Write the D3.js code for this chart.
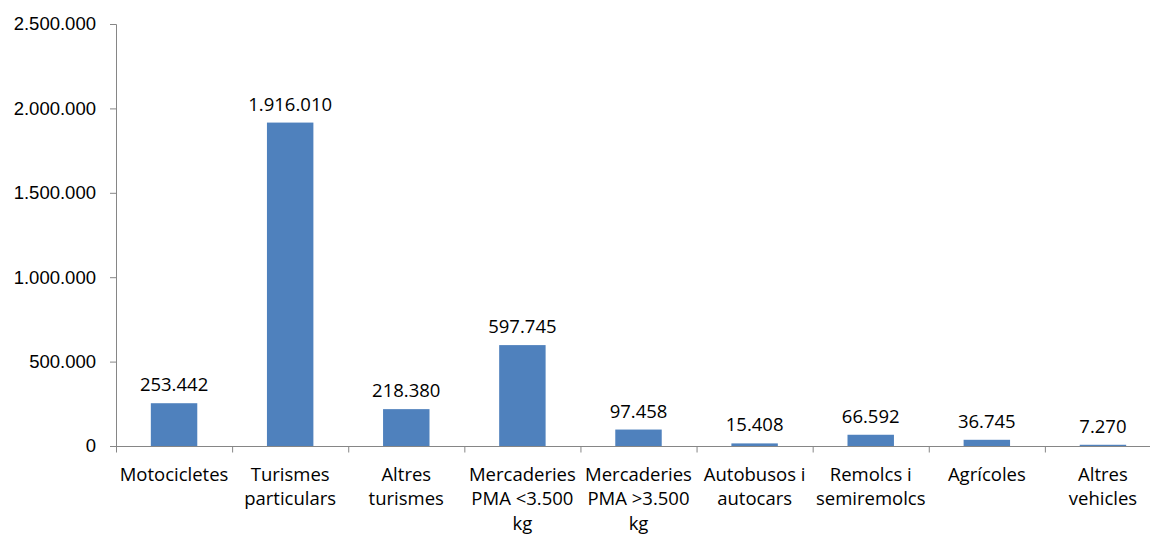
<!DOCTYPE html>
<html lang="ca">
<head>
  <meta charset="utf-8">
  <script src="https://d3js.org/d3.v7.min.js"></script>
  <style>
    body { margin: 0; background: #fff; }
    svg { display: block; font-family: "Open Sans", sans-serif; }
    .axis path, .axis line { stroke: #868686; }
    .axis text { fill: #000; font-size: 18.5px; }
  </style>
</head>
<body>
  <svg width="1150" height="535"></svg>

  <script>
    const width = 1150, height = 535;

    const categories = [
      ["Motocicletes"],
      ["Turismes", "particulars"],
      ["Altres", "turismes"],
      ["Mercaderies", "PMA <3.500", "kg"],
      ["Mercaderies", "PMA >3.500", "kg"],
      ["Autobusos i", "autocars"],
      ["Remolcs i", "semiremolcs"],
      ["Agrícoles"],
      ["Altres", "vehicles"]
    ];
    const values = [253442, 1916010, 218380, 597745, 97458, 15408, 66592, 36745, 7270];
    const yTicks = [0, 500000, 1000000, 1500000, 2000000, 2500000];

    const margin = { left: 116, right: -11, top: 24, bottom: 89 };

    const svg = d3.select("svg");

    // es-style number format: dots as thousands separators
    const locale = d3.formatLocale({ decimal: ",", thousands: ".", grouping: [3], currency: ["", " €"] });
    const fmt = locale.format(",d");

    const keys = categories.map((c, i) => i);

    const x = d3.scaleBand()
      .domain(keys)
      .range([margin.left, width - margin.right])
      .paddingInner(0.6)
      .paddingOuter(0.3);

    const y = d3.scaleLinear()
      .domain([0, 2500000])
      .range([height - margin.bottom, margin.top]);

    // y axis
    const yAxis = svg.append("g")
      .attr("class", "axis")
      .attr("transform", `translate(${margin.left},0)`)
      .call(d3.axisLeft(y).tickValues(yTicks).tickFormat(fmt).tickSize(6).tickPadding(14).tickSizeOuter(6));
    yAxis.select(".domain").attr("d", `M-6,${y(2500000) + 0.5}H0.5V${y(0)}`);

    // bars
    svg.append("g").selectAll("rect")
      .data(values)
      .enter().append("rect")
      .attr("x", (d, i) => x(i))
      .attr("width", x.bandwidth())
      .attr("y", d => y(d))
      .attr("height", d => y(0) - y(d))
      .attr("fill", "#4F81BD");

    // value labels
    svg.append("g").selectAll("text")
      .data(values)
      .enter().append("text")
      .attr("x", (d, i) => x(i) + x.bandwidth() / 2)
      .attr("y", d => y(d) - 12)
      .attr("text-anchor", "middle")
      .style("font-size", "18.5px")
      .attr("fill", "#000")
      .text(d => fmt(d));

    // x axis: ticks at category boundaries
    const step = x.step();
    const xAxis = svg.append("g")
      .attr("class", "axis")
      .attr("transform", `translate(0,${y(0) + 0.5})`);
    xAxis.append("path")
      .attr("d", `M${margin.left},0H${width}`)
      .attr("fill", "none")
      .attr("stroke", "#868686");
    xAxis.selectAll("line")
      .data(d3.range(keys.length + 1))
      .enter().append("line")
      .attr("x1", i => margin.left + 0.5 + i * step)
      .attr("x2", i => margin.left + 0.5 + i * step)
      .attr("y1", 0)
      .attr("y2", 6);

    const labels = xAxis.selectAll("text.cat")
      .data(categories)
      .enter().append("text")
      .attr("class", "cat")
      .attr("text-anchor", "middle")
      .attr("transform", (d, i) => `translate(${x(i) + x.bandwidth() / 2},34)`);
    labels.selectAll("tspan")
      .data(d => d)
      .enter().append("tspan")
      .attr("x", 0)
      .attr("y", (d, j) => j * 24.5)
      .text(d => d);
  </script>
</body>
</html>
